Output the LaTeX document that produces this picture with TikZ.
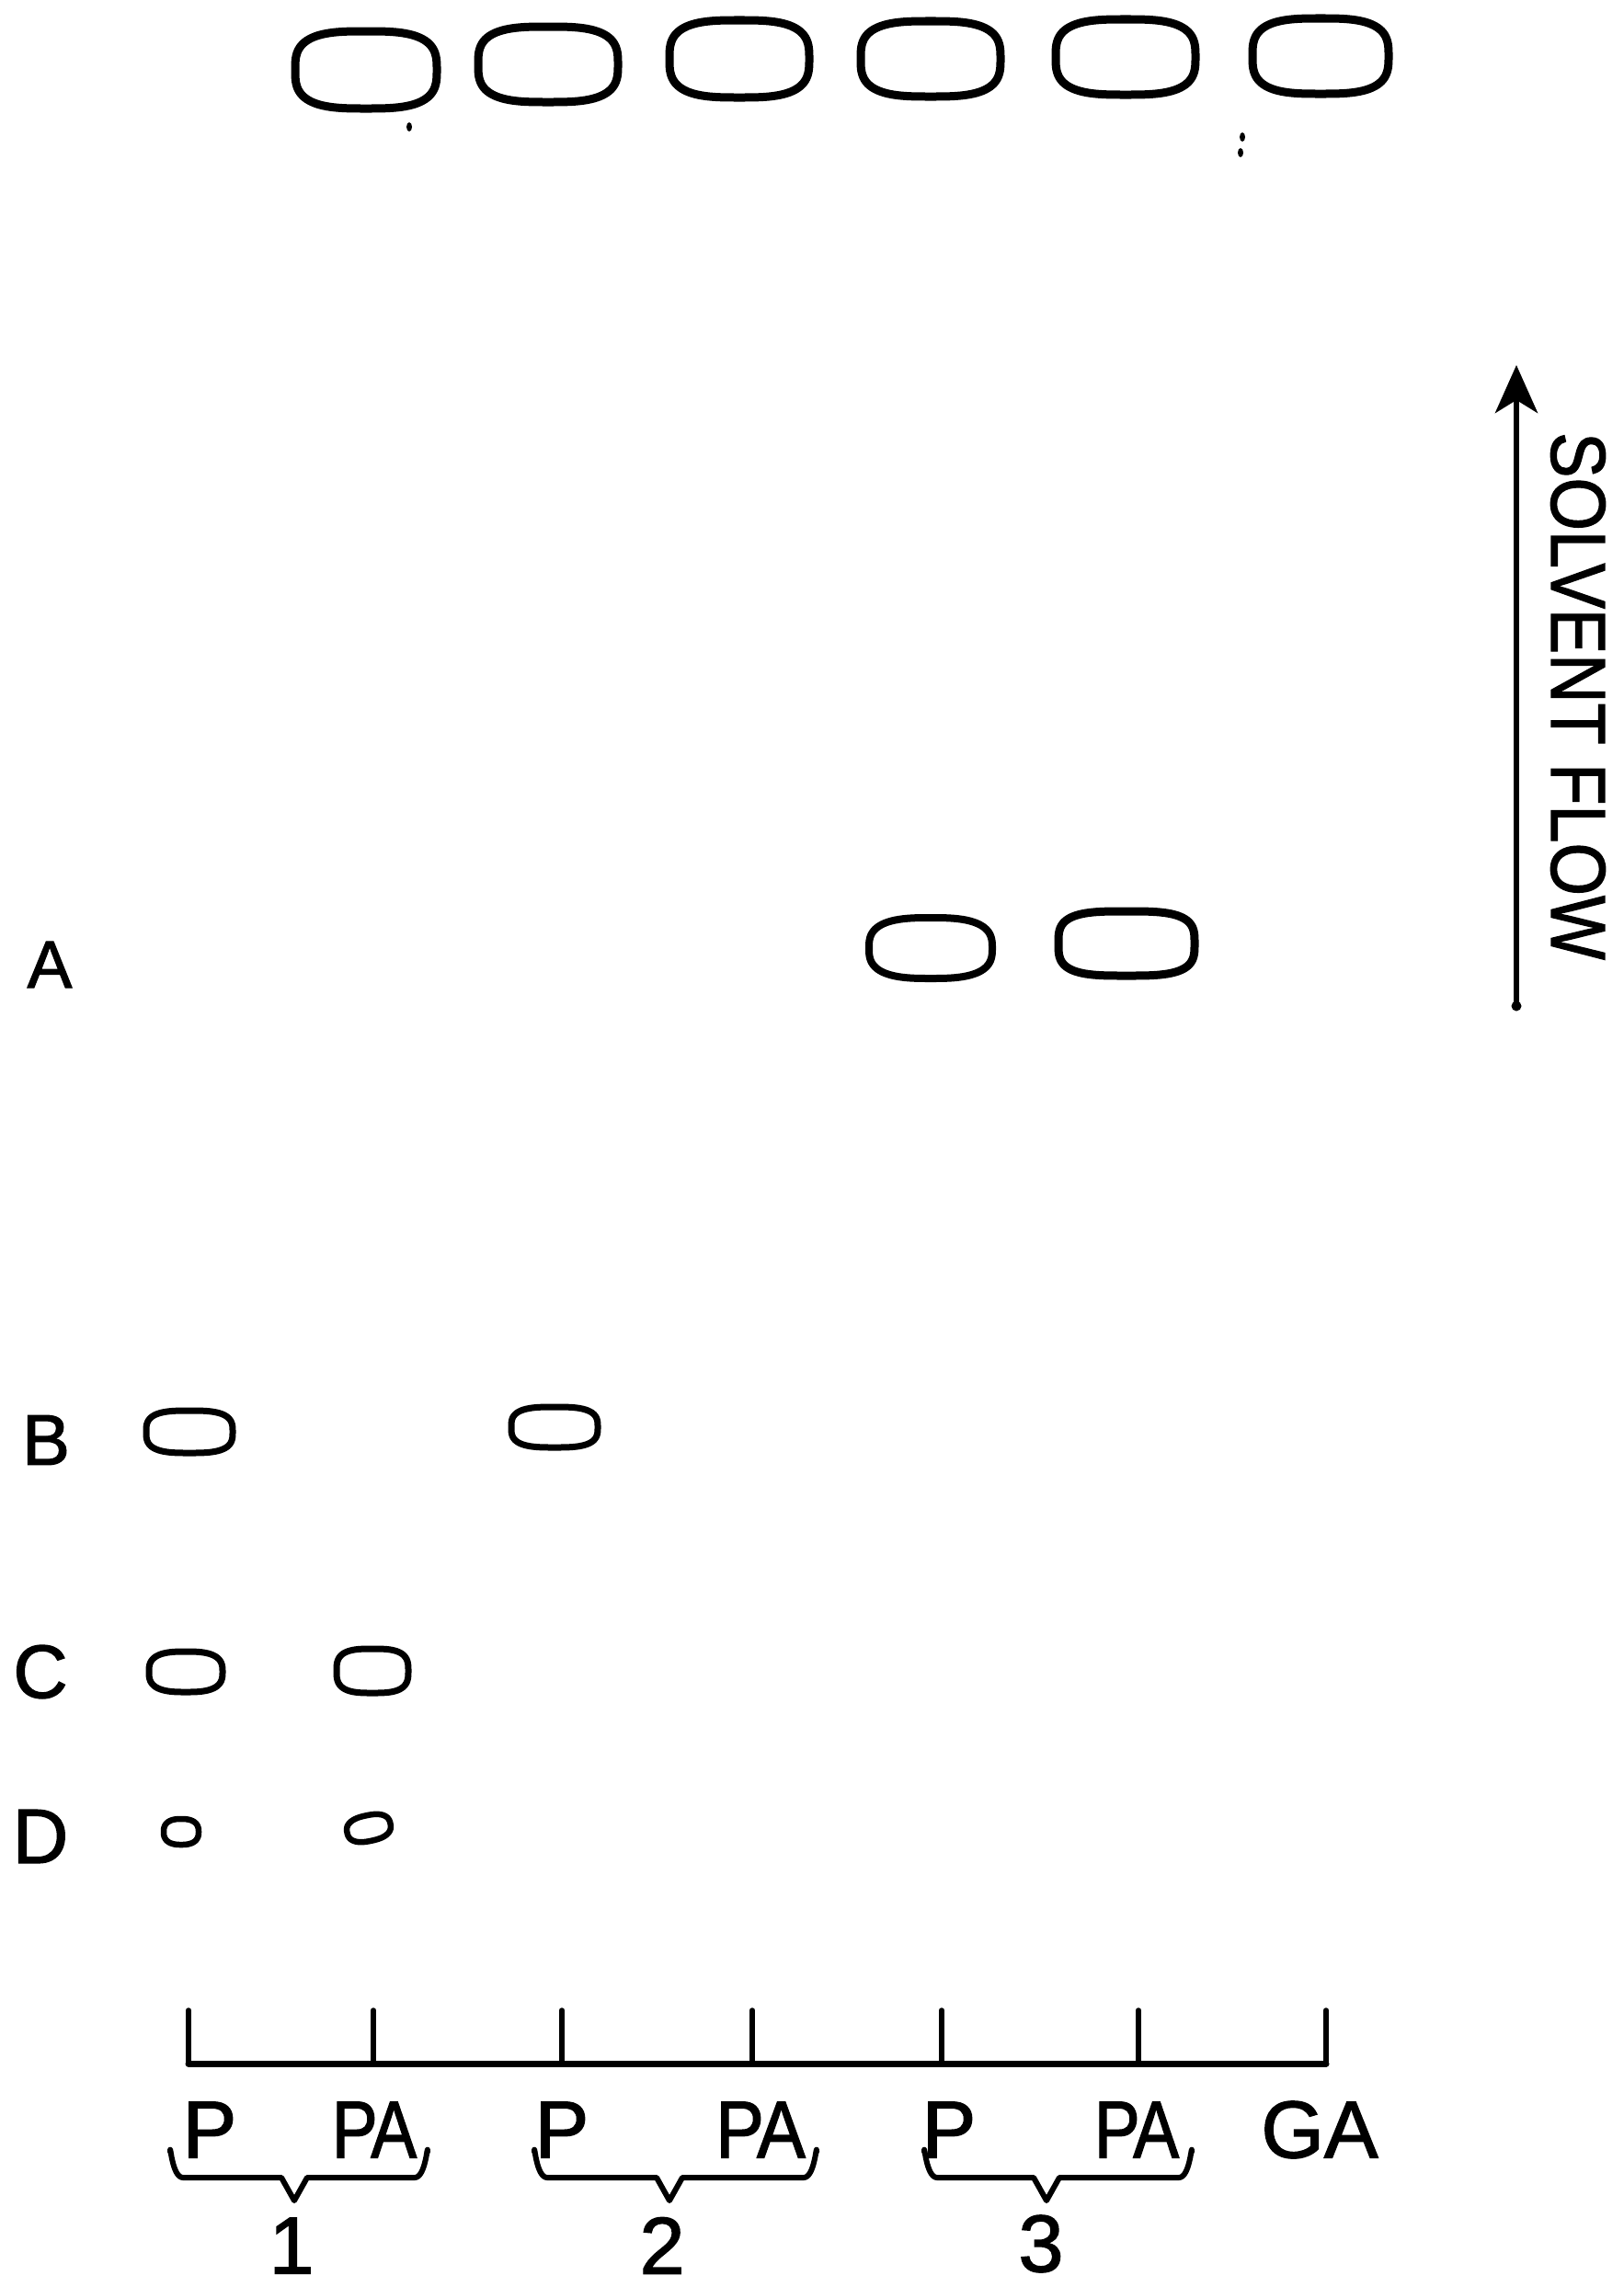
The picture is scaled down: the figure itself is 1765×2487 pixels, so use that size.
\documentclass[tikz,border=0pt]{standalone}
\usepackage{fontspec}
\setmainfont{Liberation Sans}[FakeBold=1.6]
\usetikzlibrary{arrows.meta}
\tikzset{
  lab/.style={inner sep=0pt, outer sep=0pt, text=black},
  brace/.style={line width=6pt, line cap=round, line join=round},
  tick/.style={line width=5.5pt, line cap=round},
}
% name, cx, cy, a, b, line width, rotation (counterclockwise), exponent
\newcommand\blob[8]{%
  \coordinate (#1) at (#2,#3);
  \begin{scope}[shift={(#1)}, rotate=#7]
  \draw[line width=#6pt, line join=round]
    plot[variable=\t, domain=1:359, samples=180]
    ({#4*sign(cos(\t))*pow(abs(cos(\t)),#8)},{#5*sign(sin(\t))*pow(abs(sin(\t)),#8)}) -- cycle;
  \end{scope}
}
\begin{document}
\begin{tikzpicture}[x=1pt,y=-1pt]
\useasboundingbox[fill=white] (0,0) rectangle (1765,2487);
% top row of spots
\blob{t1}{398}{76}{77}{42}{9}{0}{0.65}
\blob{t2}{596}{70}{76}{41}{9}{0}{0.65}
\blob{t3}{804}{64}{76}{42}{9}{0}{0.65}
\blob{t4}{1012}{64}{76}{41}{9}{0}{0.65}
\blob{t5}{1224}{62}{76}{41}{9}{0}{0.65}
\blob{t6}{1436}{61}{74}{41}{9}{0}{0.65}
\fill (445,138) ellipse (3pt and 5pt);
\fill (1351,149) ellipse (3pt and 5pt);
\fill (1349,166) ellipse (3pt and 5pt);
% row A
\node[lab, font=\fontsize{73}{73}\selectfont] (la) at (54,1049) {A};
\blob{a1}{1012}{1031}{67}{33}{8}{0}{0.7}
\blob{a2}{1225}{1026}{74}{35}{9}{0}{0.6}
% row B
\node[lab, font=\fontsize{78}{78}\selectfont] (lb) at (50,1566) {B};
\blob{b1}{206}{1557}{47}{23}{7}{0}{0.65}
\blob{b2}{603}{1552}{47}{22}{7}{0}{0.65}
% row C
\node[lab, font=\fontsize{82}{82}\selectfont] (lc) at (44,1818) {C};
\blob{c1}{202}{1818}{40}{22}{7}{0}{0.7}
\blob{c2}{405}{1817}{39}{24}{7}{0}{0.65}
% row D
\node[lab, font=\fontsize{84}{84}\selectfont] (ld) at (44,1997) {D};
\blob{d1}{197}{1992}{19}{14}{6.5}{0}{0.8}
\blob{d2}{401}{1988}{24}{14}{6.5}{12}{0.8}
% solvent flow arrow
\coordinate (fb) at (1649,1094);
\coordinate (ft) at (1649,397);
\draw[line width=6.5pt, line cap=round, -{Stealth[length=52pt, width=46pt, inset=14pt]}] (fb) -- (ft);
\fill (fb) circle (5.5pt);
\node[lab, rotate=-90, font=\fontsize{84}{84}\selectfont] (sf) at (1716,757) {\scalebox{0.88}[1]{SOLVENT FLOW}};
% baseline with ticks
\coordinate (x1) at (205,2244);
\coordinate (x2) at (406,2244);
\coordinate (x3) at (611,2244);
\coordinate (x4) at (818,2244);
\coordinate (x5) at (1024,2244);
\coordinate (x6) at (1238,2244);
\coordinate (x7) at (1442,2244);
\draw[line width=7pt, line cap=round] (x1) -- (x7);
\foreach \c in {x1,x2,x3,x4,x5,x6,x7} \draw[tick] (\c) -- ++(0,-58);
% lane labels
\tikzset{axl/.style={lab, font=\fontsize{88}{88}\selectfont}}
\node[axl] (p1) at (228,2316) {P};
\node[axl] (pa1) at (407,2316) {\scalebox{0.85}[1]{P\kern-0.1em A}};
\node[axl] (p2) at (611,2316) {P};
\node[axl] (pa2) at (827,2316) {\scalebox{0.9}[1]{P\kern-0.1em A}};
\node[axl] (p3) at (1032,2316) {P};
\node[axl] (pa3) at (1236,2316) {\scalebox{0.85}[1]{P\kern-0.1em A}};
\node[axl] (ga) at (1435,2316) {GA};
% braces
\draw[brace] (185,2340) to[out=90,in=180] (199,2368) -- (306,2368) -- (320,2393) -- (334,2368) -- (451,2368) to[out=0,in=90] (465,2340);
\draw[brace] (581,2340) to[out=90,in=180] (595,2368) -- (714,2368) -- (728,2393) -- (742,2368) -- (874,2368) to[out=0,in=90] (888,2340);
\draw[brace] (1005,2340) to[out=90,in=180] (1019,2368) -- (1124,2368) -- (1138,2393) -- (1152,2368) -- (1282,2368) to[out=0,in=90] (1296,2340);
% group numbers
\node[axl] (n1) at (317,2442) {1};
\node[axl] (n2) at (720,2442) {2};
\node[axl] (n3) at (1132,2440) {3};
\end{tikzpicture}
\end{document}
